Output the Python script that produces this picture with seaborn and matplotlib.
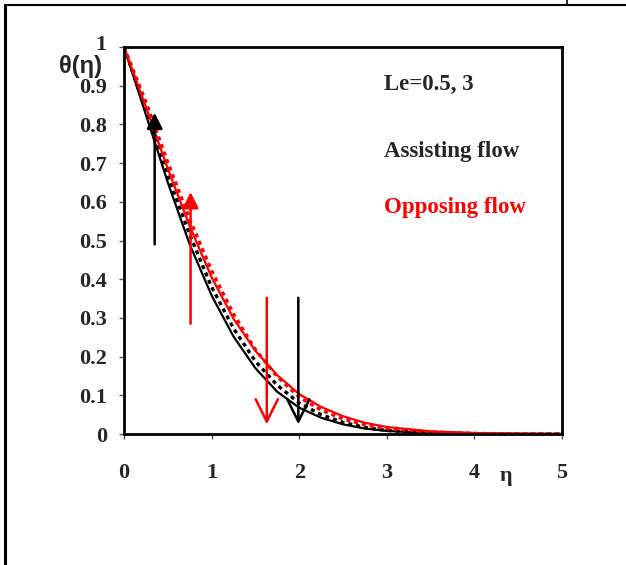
import matplotlib
matplotlib.use("Agg")
import matplotlib.pyplot as plt
import seaborn as sns
import pandas as pd
from matplotlib.lines import Line2D

sns.set_theme(style="white")
plt.rcParams['font.family'] = ['Liberation Serif', 'DejaVu Serif']

eta = [0, 0.25, 0.5, 0.75, 1.0, 1.25, 1.5, 1.75, 2.0, 2.25, 2.5, 2.75, 3.0, 3.5, 4.0, 4.5, 5.0]
assist_le05 = [1.0, 0.825, 0.65, 0.49, 0.358, 0.252, 0.17, 0.109, 0.068, 0.042, 0.025, 0.014, 0.008, 0.002, 0.0005, 0.0, 0.0]
assist_le3 = [1.0, 0.835, 0.668, 0.515, 0.38, 0.273, 0.188, 0.126, 0.08, 0.05, 0.03, 0.017, 0.009, 0.003, 0.001, 0.0, 0.0]
oppose_le05 = [1.0, 0.845, 0.685, 0.537, 0.405, 0.298, 0.215, 0.152, 0.103, 0.07, 0.046, 0.029, 0.018, 0.007, 0.0025, 0.001, 0.0]
oppose_le3 = [1.0, 0.858, 0.702, 0.555, 0.422, 0.31, 0.218, 0.148, 0.095, 0.062, 0.039, 0.024, 0.014, 0.005, 0.0015, 0.0005, 0.0]

x_ticks = [0, 1, 2, 3, 4, 5]
y_ticks = [0, 0.1, 0.2, 0.3, 0.4, 0.5, 0.6, 0.7, 0.8, 0.9, 1]
y_tick_labels = ["0", "0.1", "0.2", "0.3", "0.4", "0.5", "0.6", "0.7", "0.8", "0.9", ""]

# arrows: (eta, theta_start, theta_end, color, style)
arrow_eta = [0.35, 0.76, 1.63, 1.99]
arrow_from = [0.49, 0.285, 0.352, 0.352]
arrow_to = [0.83, 0.625, 0.025, 0.025]
arrow_colors = ["black", "red", "red", "black"]
arrow_styles = ["-|>", "-|>", "->", "->"]

fig = plt.figure(figsize=(6.26, 5.65), dpi=100)
ax = fig.add_axes([124/626, 1-434/565, (562-124)/626, (434-47)/565])

series = [
    ("a05", assist_le05, "black", "-"),
    ("a3", assist_le3, "black", (0, (1.2, 1.2))),
    ("o05", oppose_le05, "red", "-"),
    ("o3", oppose_le3, "red", (0, (1.2, 1.2))),
]
for name, vals, col, ls in series:
    df = pd.DataFrame({"eta": eta, "theta": vals})
    lw = 1.6 if ls == "-" else 2.4
    sns.lineplot(data=df, x="eta", y="theta", ax=ax, color=col, linewidth=lw,
                 linestyle=ls, estimator=None, sort=False)

for xe, y0, y1, c, st in zip(arrow_eta, arrow_from, arrow_to, arrow_colors, arrow_styles):
    ms = 24 if st == "-|>" else 40
    ax.annotate("", xy=(xe, y1), xytext=(xe, y0),
                arrowprops=dict(arrowstyle=st, color=c, lw=1.8,
                                mutation_scale=ms, shrinkA=0, shrinkB=0))

ax.set_xlim(0, 5)
ax.set_ylim(0, 1)
ax.set_xticks(x_ticks)
ax.set_yticks(y_ticks)
ax.set_xticklabels([str(t) for t in x_ticks], fontsize=16, fontweight='bold')
ax.set_yticklabels(y_tick_labels, fontsize=16, fontweight='bold')
ax.tick_params(axis='x', direction='out', length=3.6, width=1, pad=17, bottom=True, color='#555555')
ax.tick_params(axis='y', direction='out', length=3.6, width=1, pad=8.5, left=True, color='#555555')
ax.set_xlabel("")
ax.set_ylabel("")
for sp in ax.spines.values():
    sp.set_visible(True)
    sp.set_color("black")
    sp.set_linewidth(2)

# "1" top tick label placed higher
fig.text(101/626, 1-45/565, "1", fontsize=16, fontweight='bold', ha='center', va='center')
fig.text(80/626, 1-66/565, "θ(η)", fontsize=17, fontweight='bold', ha='center', va='center',
         family=['Liberation Sans', 'DejaVu Sans'])
fig.text(506/626, 1-476/565, "η", fontsize=16, fontweight='bold', ha='center', va='center')

fig.text(384/626, 1-84/565, "Le=0.5, 3", fontsize=16.5, fontweight='bold', ha='left', va='center')
fig.text(384/626, 1-152/565, "Assisting flow", fontsize=16.5, fontweight='bold', ha='left', va='center')
fig.text(384/626, 1-208/565, "Opposing flow", fontsize=16.5, fontweight='bold', ha='left', va='center', color='red')

# table frame lines
fig.add_artist(Line2D([5/626, 1], [1-5/565, 1-5/565], color='black', lw=1.5, transform=fig.transFigure))
fig.add_artist(Line2D([5/626, 5/626], [0, 1-5/565], color='black', lw=2.2, transform=fig.transFigure))
fig.add_artist(Line2D([567/626, 567/626], [1-5/565, 1], color='black', lw=1.2, transform=fig.transFigure))

fig.savefig("out.png", dpi=100)
